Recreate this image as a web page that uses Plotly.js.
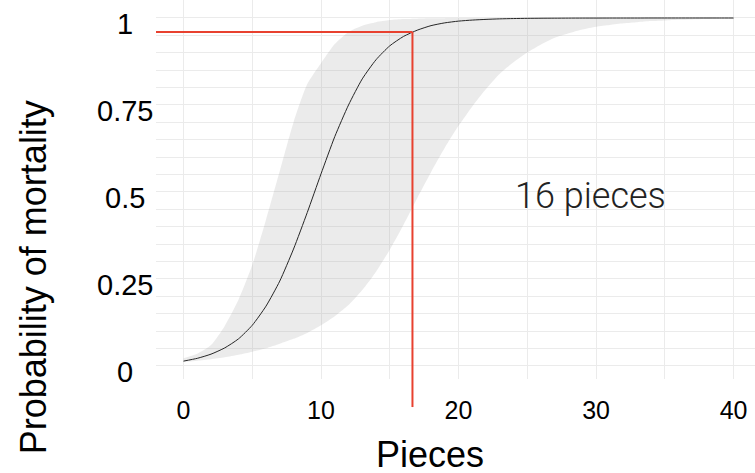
<!DOCTYPE html>
<html>
<head>
<meta charset="utf-8">
<script src="https://cdn.plot.ly/plotly-3.0.1.min.js"></script>
<style>html,body{margin:0;padding:0;background:#fff;}#chart{width:755px;height:473px;}</style>
</head>
<body>
<div id="chart"></div>
<script>
// ---- data ----
const pieces = [0,1,2,3,4,5,6,7,8,9,10,11,12,13,14,15,16,17,18,19,20,21,22,23,24,25,26,27,28,29,30,31,32,33,34,35,36,37,38,39,40];
const probMean = [0.014,0.022,0.034,0.052,0.078,0.117,0.172,0.244,0.336,0.441,0.552,0.659,0.750,0.825,0.880,0.920,0.947,0.965,0.978,0.986,0.991,0.994,0.996,0.9975,0.9984,0.999,0.9993,0.9995,0.9997,0.9998,0.9998,0.9999,0.9999,0.9999,1,1,1,1,1,1,1];
const probLower = [0.012,0.0154,0.0196,0.025,0.032,0.041,0.051,0.064,0.078,0.095,0.117,0.143,0.175,0.218,0.271,0.334,0.406,0.483,0.557,0.627,0.690,0.746,0.796,0.840,0.873,0.901,0.924,0.943,0.956,0.967,0.975,0.980,0.985,0.988,0.991,0.993,0.995,0.996,0.997,0.9975,0.998];
const probUpper = [0.022,0.035,0.06,0.115,0.19,0.29,0.42,0.56,0.70,0.81,0.87,0.925,0.96,0.978,0.988,0.994,0.997,0.998,0.999,0.9995,0.9997,0.9998,0.9999,0.9999,1,1,1,1,1,1,1,1,1,1,1,1,1,1,1,1,1];
const thresholdPieces = 16.65;
const thresholdProb = 0.96;
const labelText = "16 pieces";
const labelPos = [29.6, 0.488];
const xGridVals = [0,5,10,15,20,25,30,35,40];
const xTickText = ["0","","10","","20","","30","","40"];
const yGridVals = [0,0.05,0.1,0.15,0.2,0.25,0.3,0.35,0.4,0.45,0.5,0.55,0.6,0.65,0.7,0.75,0.8,0.85,0.9,0.95,1];
const yTickVals = [0,0.25,0.5,0.75,1];
const yTickText = ["0","0.25","0.5","0.75","1"];
const xTitle = "Pieces";
const yTitle = "Probability of mortality";

const red = '#e8412f';
const sans = 'Arial, "Liberation Sans", sans-serif';

const traces = [
  {x: pieces, y: probLower, type: 'scatter', mode: 'lines', line: {width: 0, shape: 'spline', smoothing: 0.6}, hoverinfo: 'skip', showlegend: false},
  {x: pieces, y: probUpper, type: 'scatter', mode: 'lines', fill: 'tonexty', fillcolor: 'rgba(153,153,153,0.2)', line: {width: 0, shape: 'spline', smoothing: 0.6}, hoverinfo: 'skip', showlegend: false},
  {x: pieces, y: probMean, type: 'scatter', mode: 'lines', line: {color: '#262626', width: 1, shape: 'spline', smoothing: 0.6}, showlegend: false}
];

const annotations = yTickVals.map((v, i) => ({
  xref: 'paper', yref: 'y', x: -0.052, y: v, text: yTickText[i], showarrow: false,
  xanchor: 'center', yanchor: 'middle', yshift: -6,
  font: {family: sans, size: 29, color: '#000'}
}));
annotations.push({
  xref: 'x', yref: 'y', x: labelPos[0], y: labelPos[1], text: labelText, showarrow: false,
  xanchor: 'center', yanchor: 'middle', font: {family: 'Roboto, sans-serif', weight: 300, size: 36, color: '#222'}
});
annotations.push({
  xref: 'paper', yref: 'paper', x: 0.457, y: -0.198, text: xTitle, showarrow: false, borderpad: 0,
  height: 34, valign: 'middle',
  xanchor: 'center', yanchor: 'middle', font: {family: sans, size: 36, color: '#000'}
});
annotations.push({
  xref: 'paper', yref: 'paper', x: -0.205, y: 0.269, text: yTitle, showarrow: false, textangle: -90, borderpad: 0,
  xanchor: 'center', yanchor: 'middle', font: {family: sans, size: 36, color: '#000'}
});

const layout = {
  width: 755, height: 473,
  margin: {l: 156, r: 0, t: 0, b: 94, pad: 0},
  paper_bgcolor: '#fff', plot_bgcolor: '#fff',
  showlegend: false,
  xaxis: {
    range: [-2, 41.56], tickmode: 'array', tickvals: xGridVals, ticktext: xTickText,
    showgrid: true, gridcolor: '#ebebeb', gridwidth: 1, zeroline: false, showline: false,
    ticks: '', ticklabelstandoff: 14, tickfont: {family: sans, size: 25, color: '#000'}
  },
  yaxis: {
    range: [-0.0374, 1.0517], tickmode: 'array', tickvals: yGridVals, ticktext: yGridVals.map(() => ''),
    showgrid: true, gridcolor: '#ebebeb', gridwidth: 1, zeroline: false, showline: false, ticks: ''
  },
  shapes: [
    {type: 'line', xref: 'x', yref: 'y', x0: -2.2, x1: thresholdPieces, y0: thresholdProb, y1: thresholdProb, line: {color: red, width: 2}},
    {type: 'line', xref: 'x', yref: 'y', x0: thresholdPieces, x1: thresholdPieces, y0: -0.1, y1: thresholdProb, line: {color: red, width: 2}},
    {type: 'line', xref: 'x', yref: 'paper', x0: thresholdPieces, x1: thresholdPieces, y0: -0.074, y1: 0, line: {color: red, width: 2}}
  ],
  annotations: annotations
};

Plotly.newPlot('chart', traces, layout, {displayModeBar: false, staticPlot: true});
</script>
</body>
</html>
